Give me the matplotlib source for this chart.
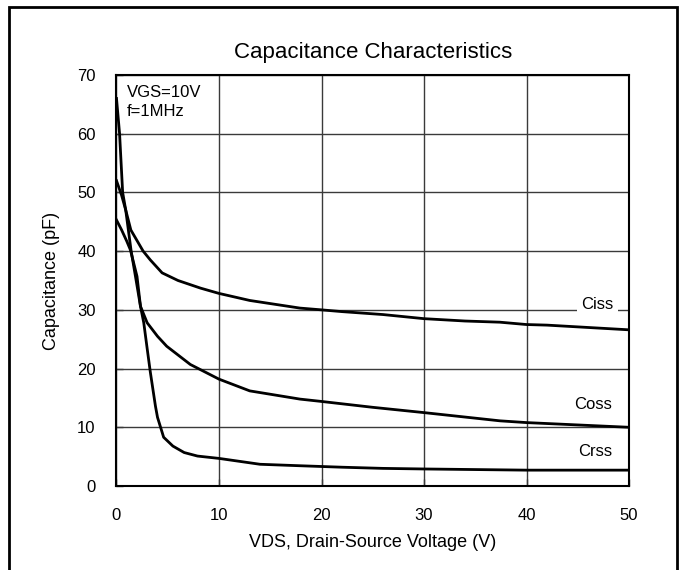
import matplotlib.pyplot as plt
from matplotlib.patches import Rectangle

plt.rcParams['font.family'] = ['Liberation Sans', 'DejaVu Sans']

ciss_v = [0, 0.5, 0.9, 1.4, 2.0, 2.6, 3.3, 4.45, 6, 8.2, 10, 13, 17.9, 20, 22, 26, 30, 34, 37.4, 40, 42, 46, 50]
ciss_c = [52, 49.5, 47, 43.6, 41.8, 40, 38.5, 36.3, 35.0, 33.7, 32.8, 31.6, 30.3, 30.0, 29.7, 29.2, 28.5, 28.1, 27.9, 27.5, 27.4, 27.0, 26.6]

coss_v = [0, 0.5, 1.0, 1.36, 2.0, 2.34, 2.99, 4.0, 4.9, 7.2, 10, 13, 17.9, 20, 25, 30, 37.4, 40, 45, 50]
coss_c = [45.3, 43.6, 41.7, 40.2, 35.7, 30.6, 27.8, 25.5, 23.8, 20.7, 18.2, 16.2, 14.8, 14.4, 13.4, 12.5, 11.1, 10.8, 10.4, 10.0]

crss_v = [0, 0.3, 0.6, 0.9, 1.43, 1.85, 2.34, 2.66, 3.0, 3.3, 3.8, 4.0, 4.6, 5.5, 6.6, 7.9, 10, 14, 17.9, 22, 26, 30, 35, 40, 45, 50]
crss_c = [66, 60, 50, 47, 40, 35.7, 30.6, 27.8, 23.3, 19.4, 13.6, 11.7, 8.3, 6.8, 5.7, 5.1, 4.7, 3.7, 3.45, 3.2, 3.0, 2.9, 2.8, 2.7, 2.7, 2.7]

x_ticks = [0, 10, 20, 30, 40, 50]
y_ticks = [0, 10, 20, 30, 40, 50, 60, 70]

W, H = 682, 570
fig = plt.figure(figsize=(W / 100, H / 100), dpi=100)
ax = fig.add_axes([116.5 / W, (H - 486) / H, (629 - 116.5) / W, (486 - 75) / H])

for v, c in [(ciss_v, ciss_c), (coss_v, coss_c), (crss_v, crss_c)]:
    ax.plot(v, c, color='black', lw=2, zorder=3, solid_joinstyle='round')

ax.set_xlim(0, 50)
ax.set_ylim(0, 70)
ax.set_xticks(x_ticks)
ax.set_yticks(y_ticks)
ax.grid(True, color='#3a3a3a', lw=1)
ax.tick_params(direction='in', length=5, width=1, labelsize=12, color='#3a3a3a')
ax.tick_params(axis='y', pad=15)
ax.tick_params(axis='x', pad=16)
for s in ax.spines.values():
    s.set_linewidth(1.5)

ax.set_title('Capacitance Characteristics', fontsize=16, pad=12)
ax.set_xlabel('VDS, Drain-Source Voltage (V)', fontsize=13, labelpad=8)
ax.set_ylabel('Capacitance (pF)', fontsize=13, labelpad=12)

ax.text(1.0, 68.3, 'VGS=10V\nf=1MHz', fontsize=12, va='top', ha='left', linespacing=1.3)
ax.text(46.9, 30.9, 'Ciss', fontsize=12, ha='center', va='center', zorder=4,
        bbox=dict(facecolor='white', edgecolor='none', pad=3))
ax.text(46.5, 13.8, 'Coss', fontsize=12, ha='center', va='center')
ax.text(46.7, 5.9, 'Crss', fontsize=12, ha='center', va='center')

fig.patches.append(Rectangle((9 / W, -0.02), (677 - 9) / W, 1.02 - 7 / H,
                             transform=fig.transFigure, fill=False, lw=2, ec='black'))

fig.savefig('out.png', dpi=100)
